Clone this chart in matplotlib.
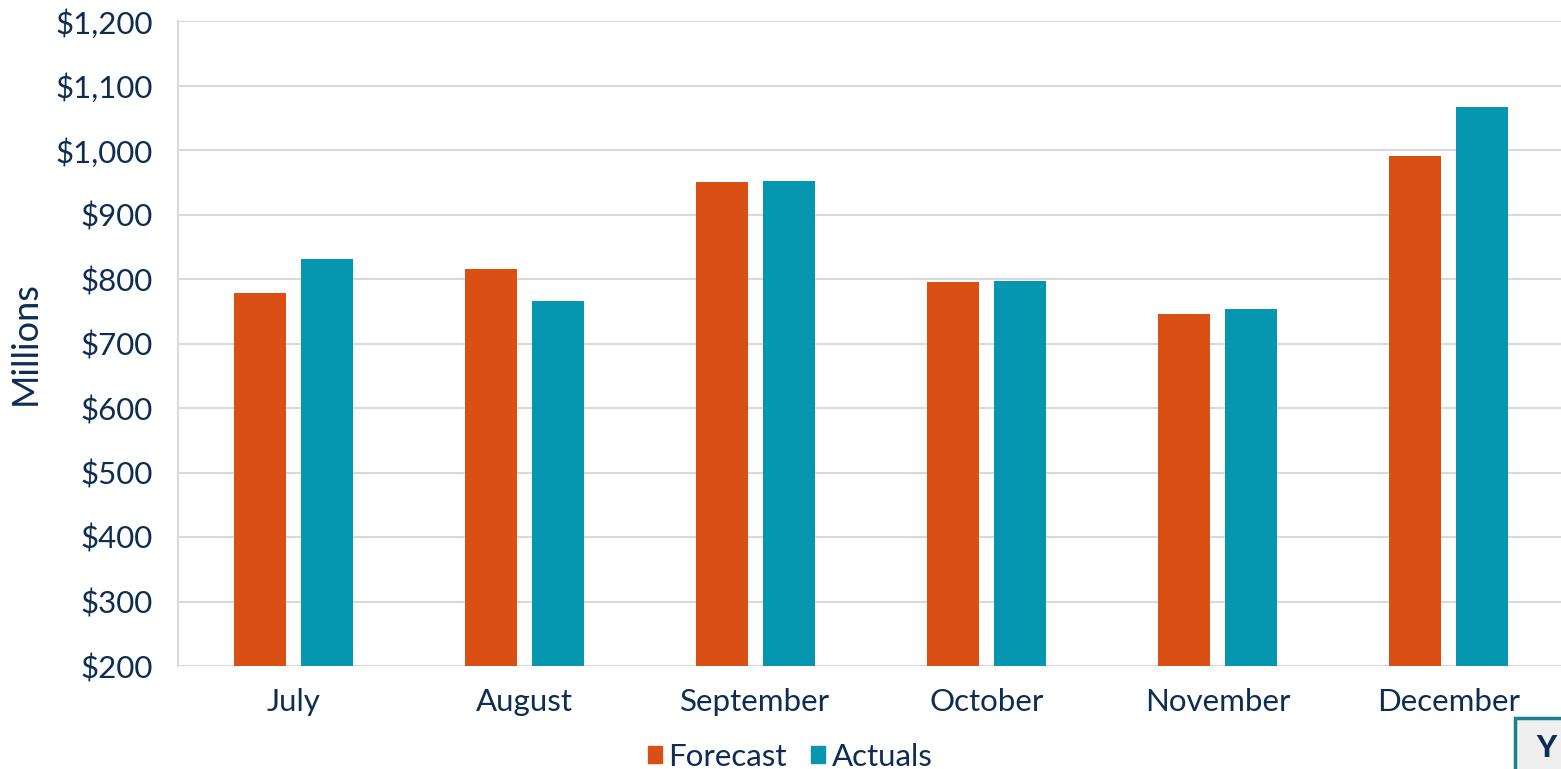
import matplotlib
matplotlib.use("Agg")
import matplotlib.pyplot as plt
import numpy as np
from matplotlib.patches import Patch, Rectangle

months = ["July", "August", "September", "October", "November", "December"]
forecast = [778, 816, 950, 795, 746, 991]
actuals = [831, 766, 952, 797, 754, 1067]
yticks = [200, 300, 400, 500, 600, 700, 800, 900, 1000, 1100, 1200]

plt.rcParams['font.family'] = ['Lato', 'DejaVu Sans']
navy = "#0E2D52"
orange = "#DA4F14"
teal = "#0596B0"

fig = plt.figure(figsize=(15.61, 7.69), dpi=100)
ax = fig.add_axes([178/1561, 1 - 666/769, (1564-178)/1561, (666-21)/769])

x = np.arange(len(months))
w = 0.225
ax.bar(x - 0.143, forecast, width=w, color=orange, zorder=3)
ax.bar(x + 0.143, actuals, width=w, color=teal, zorder=3)

ax.set_xlim(-0.5, len(months) - 0.5)
ax.set_ylim(200, 1200)
ax.set_yticks(yticks)
ax.set_yticklabels([f"${v:,}" for v in yticks])
ax.set_xticks(x)
ax.set_xticklabels(months)
ax.tick_params(axis='both', length=0, colors=navy)
ax.tick_params(axis='y', pad=18, labelsize=22.5)
ax.tick_params(axis='x', pad=16, labelsize=22.5)
ax.yaxis.grid(True, color="#D9D9D9", linewidth=1.5, zorder=0)
ax.set_axisbelow(True)
for s in ["top", "right", "bottom"]:
    ax.spines[s].set_visible(False)
ax.spines["left"].set_color("#D9D9D9")
ax.spines["left"].set_linewidth(1.5)
ax.set_ylabel("Millions", fontsize=26, color=navy, labelpad=10)

handles = [Patch(color=orange, label="Forecast"), Patch(color=teal, label="Actuals")]
leg = fig.legend(handles=handles, loc="center", bbox_to_anchor=(790/1561, 1 - 757/769),
                 ncol=2, frameon=False, fontsize=22.5, handlelength=0.45, handleheight=0.45,
                 handletextpad=0.2, columnspacing=0.8, labelcolor=navy,
                 borderpad=0, borderaxespad=0)

# partially visible box at bottom-right
fig.patches.append(Rectangle((1515/1561, -0.05), 0.05, (1 - 718/769) + 0.05,
                             transform=fig.transFigure, facecolor="#EFEFEF",
                             edgecolor="#1A7F8E", linewidth=2.5, zorder=5))
fig.text(1536/1561, 1 - 748/769, "Y", fontsize=22, fontweight="black", color=navy,
         ha="left", va="center", zorder=6)

fig.savefig("out.png", dpi=100)
